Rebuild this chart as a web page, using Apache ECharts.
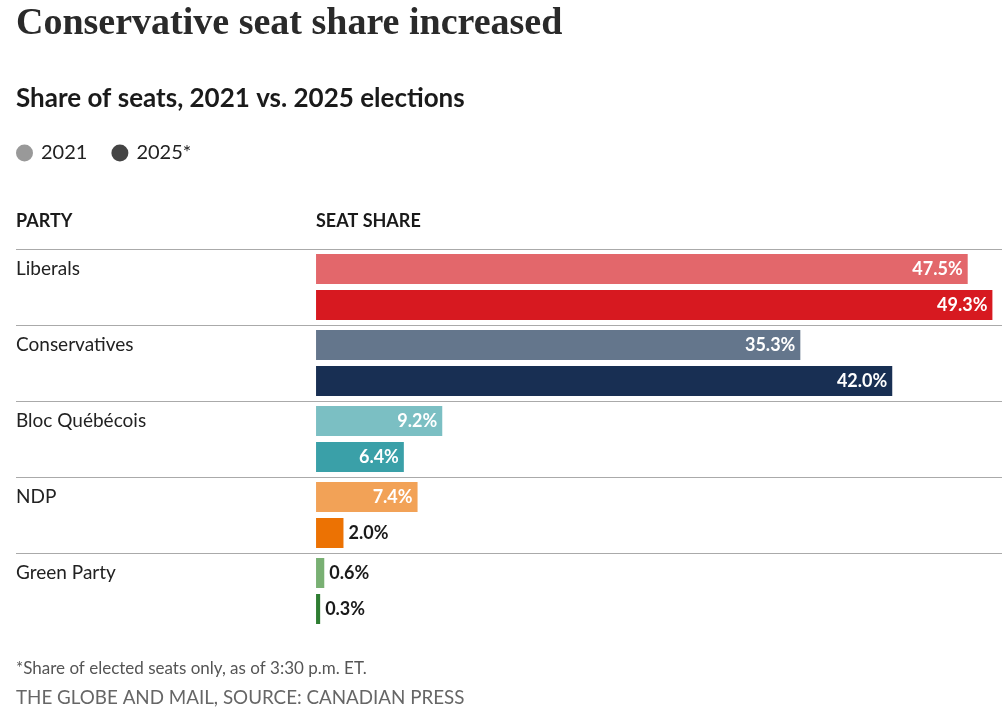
<!DOCTYPE html>
<html>
<head>
<meta charset="utf-8">
<script src="https://cdn.jsdelivr.net/npm/echarts@6/dist/echarts.min.js"></script>
<style>
  html, body { margin: 0; padding: 0; background: #fff; }
  #chart { width: 1002px; height: 718px; }
</style>
</head>
<body>
<div id="chart"></div>
<script>
// data
const parties = ['Liberals', 'Conservatives', 'Bloc Québécois', 'NDP', 'Green Party'];
const share2021 = [47.5, 35.3, 9.2, 7.4, 0.6];
const share2025 = [49.3, 42.0, 6.4, 2.0, 0.3];
const colors2021 = ['#E3676B', '#64768C', '#7BBFC3', '#F2A257', '#79B073'];
const colors2025 = ['#D71920', '#182F53', '#3AA0A8', '#EC7203', '#2E7D32'];

const font = 'Lato, "Noto Sans", sans-serif';

const chart = echarts.init(document.getElementById('chart'));

// per bar colour + label inside (white) or outside (dark) for short bars
function buildData(values, colors) {
  return values.map((v, i) => ({
    value: v,
    itemStyle: { color: colors[i] },
    label: v >= 5 ? {
      position: 'insideRight', color: '#fff', distance: 5
    } : {
      position: 'right', color: '#1a1a1a', distance: 5
    }
  }));
}

const labelBase = {
  show: true,
  fontFamily: font,
  fontWeight: 'bold',
  fontSize: 18,
  formatter: p => p.value.toFixed(1) + '%'
};

const option = {
  animation: false,
  backgroundColor: '#fff',
  legend: {
    left: 11,
    top: 138,
    icon: 'circle',
    itemWidth: 17,
    itemHeight: 17,
    itemGap: 24,
    textStyle: { fontFamily: font, fontSize: 20, color: '#222', padding: [0, 0, 0, 3] },
    data: ['2021', '2025*']
  },
  grid: { left: 16, right: 0, top: 249, height: 380, containLabel: false },
  xAxis: {
    type: 'value',
    min: -21.87,
    max: 50,
    show: false
  },
  yAxis: {
    type: 'category',
    inverse: true,
    data: parties,
    axisLine: { show: false },
    axisTick: { show: false },
    splitLine: { show: true, showMaxLine: false, lineStyle: { color: '#aaa', width: 1 } },
    axisLabel: {
      inside: true,
      margin: 0,
      align: 'left',
      verticalAlign: 'middle',
      fontFamily: font,
      fontSize: 19,
      lineHeight: 18,
      color: '#222',
      // name sits on the first line of the band, beside the 2021 bar
      formatter: name => name + '\n\n'
    }
  },
  series: [
    {
      name: '2021',
      type: 'bar',
      barWidth: 30,
      barGap: '20%',
      itemStyle: { color: '#999' },
      label: labelBase,
      data: buildData(share2021, colors2021)
    },
    {
      name: '2025*',
      type: 'bar',
      barWidth: 30,
      barGap: '20%',
      itemStyle: { color: '#444' },
      label: labelBase,
      data: buildData(share2025, colors2025)
    }
  ],
  graphic: [
    {
      type: 'text', left: 16, top: 5,
      style: { text: 'Conservative seat share increased', font: 'bold 38px "Liberation Serif", serif', fill: '#2a2a2a' }
    },
    {
      type: 'text', left: 16, top: 86,
      style: { text: 'Share of seats, 2021 vs. 2025 elections', font: 'bold 26px ' + font, fill: '#1a1a1a' }
    },
    {
      type: 'text', left: 16, top: 212,
      style: { text: 'PARTY', font: 'bold 18px ' + font, fill: '#1a1a1a' }
    },
    {
      type: 'text', left: 316, top: 212,
      style: { text: 'SEAT SHARE', font: 'bold 18px ' + font, fill: '#1a1a1a' }
    },
    {
      type: 'text', left: 16, top: 660,
      style: { text: '*Share of elected seats only, as of 3:30 p.m. ET.', font: '17px ' + font, fill: '#555' }
    },
    {
      type: 'text', left: 16, top: 688,
      style: { text: 'THE GLOBE AND MAIL, SOURCE: CANADIAN PRESS', font: '18.8px ' + font, fill: '#666' }
    }
  ]
};

chart.setOption(option);
</script>
</body>
</html>
